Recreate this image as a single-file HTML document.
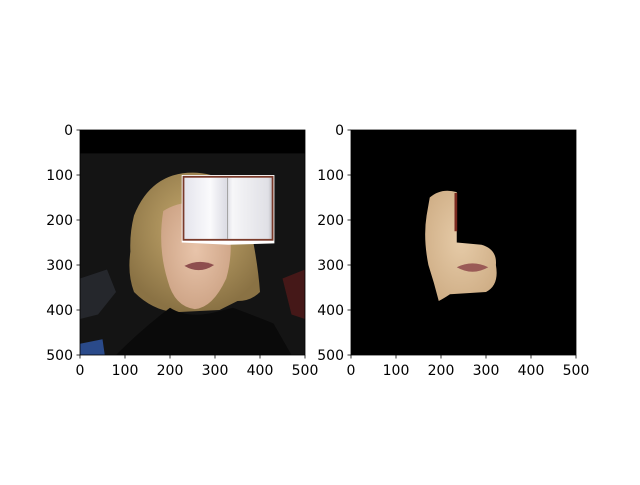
<!DOCTYPE html>
<html><head><meta charset="utf-8"><style>
body{margin:0;background:#fff;}
svg text{font-family:"DejaVu Sans","Liberation Sans",sans-serif;font-size:14px;fill:#000;}
</style></head><body>
<svg width="640" height="480" xmlns="http://www.w3.org/2000/svg">
<defs>
<linearGradient id="pg" x1="0" x2="1"><stop offset="0" stop-color="#e4e4ec"/><stop offset="0.3" stop-color="#fafafc"/><stop offset="0.48" stop-color="#dcdce4"/><stop offset="0.55" stop-color="#f6f6f8"/><stop offset="0.95" stop-color="#e0e0e6"/><stop offset="1" stop-color="#b8b8c0"/></linearGradient>
<radialGradient id="skin" cx="0.5" cy="0.45" r="0.6"><stop offset="0" stop-color="#e8c4aa"/><stop offset="1" stop-color="#cca284"/></radialGradient>
<radialGradient id="skin2" cx="0.5" cy="0.45" r="0.6"><stop offset="0" stop-color="#e6cba8"/><stop offset="1" stop-color="#cfae86"/></radialGradient>
<radialGradient id="hair" cx="0.5" cy="0.4" r="0.6"><stop offset="0" stop-color="#c8ac70"/><stop offset="1" stop-color="#8a7244"/></radialGradient>
</defs>
<g transform="translate(80,130) scale(0.45)">
<rect width="500" height="500" fill="#141414"/>
<rect width="500" height="52" fill="#000"/>
<path d="M0,330 L60,310 L80,360 L40,410 L0,420Z" fill="#30333c" opacity="0.6"/>
<path d="M450,330 L500,310 L500,420 L470,410Z" fill="#5a1a1a" opacity="0.7"/>
<path d="M0,475 L50,465 L55,500 L0,500Z" fill="#2a4a8a"/>
<path d="M120,190 Q160,90 260,95 Q350,100 375,200 Q395,290 400,360 Q380,380 350,380 L310,400 L210,405 Q160,400 120,360 Q105,320 112,270 Q110,230 120,190Z" fill="url(#hair)"/>
<path d="M185,180 Q250,140 325,185 Q345,260 325,330 Q295,395 255,398 Q210,392 195,335 Q172,260 185,180Z" fill="url(#skin)"/>
<path d="M232,302 Q265,285 298,300 Q265,322 232,302Z" fill="#8e4e4e"/>
<path d="M200,395 Q240,420 300,405 L340,395 Q380,410 430,430 L470,500 L80,500 Q140,440 200,395Z" fill="#0a0a0a"/>
<g>
<path d="M226,100 L432,100 L432,252 L330,255 L226,250Z" fill="#fff"/>
<rect x="230" y="104" width="198" height="140" fill="url(#pg)" stroke="#7a3a2a" stroke-width="4"/>
<line x1="328" y1="106" x2="328" y2="242" stroke="#999" stroke-width="2"/>
</g>
</g>
<g transform="translate(351,130) scale(0.45)">
<rect width="500" height="500" fill="#000"/>
<path d="M175,150 Q200,128 235,138 L235,250 L290,255 Q325,265 322,300 Q330,345 300,360 L220,365 Q205,375 195,380 Q185,340 172,300 Q160,240 168,190Z" fill="url(#skin2)"/>
<rect x="230" y="140" width="6" height="85" fill="#7a2a20"/>
<path d="M235,305 Q270,288 305,305 Q270,325 235,305Z" fill="#9a5a56"/>
</g>
<g stroke="#000" stroke-width="0.8" fill="none">
<rect x="80" y="130" width="225" height="225"/>
</g>
<g stroke="#000" stroke-width="0.8" fill="none">
<rect x="351" y="130" width="225" height="225"/>
</g>
<g id="ticks"></g>
</svg>
<script>
const tickVals=[0,100,200,300,400,500];
const g=document.getElementById('ticks');
const ns='http://www.w3.org/2000/svg';
[[80,'left'],[351,'right']].forEach(([x0,side])=>{
  const y0=130,s=0.45;
  tickVals.forEach(v=>{
    const x=x0+v*s, y=y0+v*s;
    let l=document.createElementNS(ns,'line');
    l.setAttribute('x1',x);l.setAttribute('x2',x);l.setAttribute('y1',355);l.setAttribute('y2',358.5);l.setAttribute('stroke','#000');l.setAttribute('stroke-width','0.8');
    
    
    g.appendChild(l);
    let t=document.createElementNS(ns,'text');
    t.setAttribute('x',x);t.setAttribute('y',375);t.setAttribute('text-anchor','middle');t.textContent=v;
    
    
    g.appendChild(t);
    let l2=document.createElementNS(ns,'line');
    l2.setAttribute('x1',x0-3.5);l2.setAttribute('x2',x0);l2.setAttribute('y1',y);l2.setAttribute('y2',y);l2.setAttribute('stroke','#000');l2.setAttribute('stroke-width','0.8');
    
    
    g.appendChild(l2);
    let t2=document.createElementNS(ns,'text');
    t2.setAttribute('x',x0-7);t2.setAttribute('y',y+5);t2.setAttribute('text-anchor','end');t2.textContent=v;
    
    
    g.appendChild(t2);
  });
});
</script>
</body></html>
